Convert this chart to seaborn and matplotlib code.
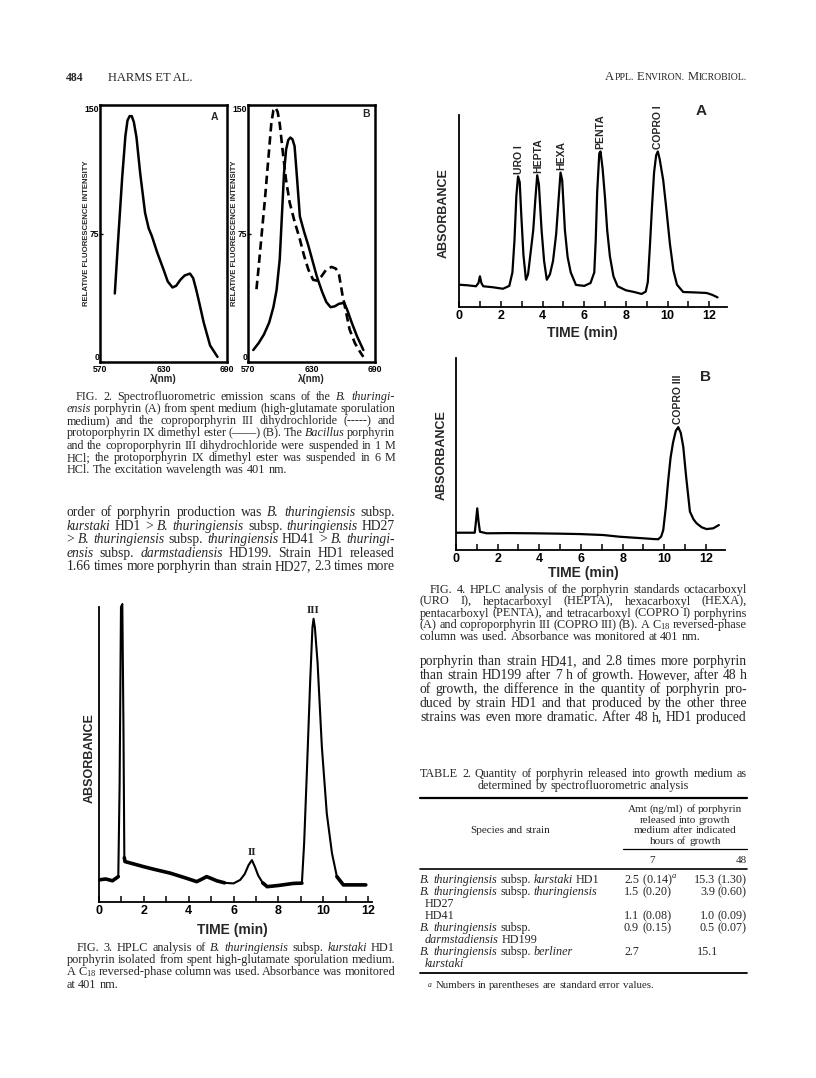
import matplotlib
matplotlib.use("Agg")
import matplotlib.pyplot as plt
from matplotlib.lines import Line2D
import numpy as np
import pandas as pd
import seaborn as sns

# ---------------- data read from the page ----------------
# Fig. 2A : B. thuringiensis porphyrin emission scan
fig2a_wavelength = [584, 587, 591, 594, 596, 598, 600, 602, 604.5, 608, 612.6, 616, 619, 624, 630,
                    634, 638.5, 642, 646, 650, 655, 658, 661, 664, 668, 674, 681]
fig2a_intensity = [40, 70, 108, 132, 141, 143.5, 143.5, 140, 131, 110, 87, 78, 73.5, 64, 54,
                   47, 43.5, 44.5, 48, 50.5, 51.6, 49, 42, 34, 23, 9.7, 3]
# Fig. 2B dashed : coproporphyrin III dihydrochloride
fig2b_copro_wavelength = [578, 580, 583, 586, 589, 592, 594, 596, 598, 600, 603, 606, 609.4, 614, 619,
                          623, 627, 631.5, 635, 639.4, 644, 649, 653, 656, 659.3, 663, 666, 671, 676, 679]
fig2b_copro_intensity = [42.5, 55, 75, 95, 117, 139, 147, 148.5, 146, 139, 122, 106, 93, 82, 71.6,
                         62, 54, 48, 47.5, 50, 54, 55.5, 54.5, 51, 39, 28, 19, 11, 5.8, 3]
# Fig. 2B solid : protoporphyrin IX dimethyl ester
fig2b_proto_wavelength = [575, 580, 585, 590, 594, 597, 600, 602, 604, 606, 608, 610, 612, 614, 616,
                          619, 623, 627, 631, 635, 640, 644, 648, 652, 656, 661, 664, 668, 673, 679]
fig2b_proto_intensity = [7, 11, 16, 23, 32, 42, 60, 85, 110, 124, 129.5, 131, 130, 126, 110,
                         85, 76, 68, 59, 50, 41, 35, 32, 32.5, 34, 34.5, 30, 23, 15, 7]
fig2_ticks_y = [0, 75, 150]
fig2_ticks_x = [570, 630, 690]

# Fig. 3 : HPLC of HD1 porphyrin
fig3_time = [0.0, 0.3, 0.6, 0.86, 0.92, 0.98, 1.04, 1.09, 1.13, 1.16, 1.5, 1.98, 2.5, 3.17, 3.8,
             4.36, 4.6, 4.8, 5.0, 5.25, 5.6, 6.0, 6.3, 6.5, 6.67, 6.82, 6.95, 7.1, 7.3, 7.5,
             8.0, 8.67, 9.05, 9.15, 9.27, 9.42, 9.52, 9.57, 9.63, 9.75, 9.94, 10.16, 10.39, 10.61,
             10.9, 11.4, 11.9]
fig3_abs = [7.5, 7.8, 7.2, 8.6, 40, 100, 101, 60, 15, 13.7, 13, 12, 11, 9.8, 8.3,
            6.9, 7.8, 8.6, 8.0, 7.2, 6.5, 6.3, 7.5, 9.5, 12.5, 14.2, 12, 9, 6.5, 5.2,
            5.6, 6.3, 6.4, 20, 43.7, 75, 93, 96, 93, 81, 52.6, 30, 16.6, 8.6,
            5.8, 5.8, 5.8]
fig3_peak_names = ["II", "III"]
fig3_peak_times = [6.82, 9.57]

# Fig. 4A : porphyrin standards
fig4a_time = [0, 0.4, 0.8, 0.92, 0.99, 1.06, 1.15, 1.6, 2.1, 2.4, 2.55, 2.65, 2.74, 2.82, 2.9,
              2.98, 3.08, 3.2, 3.3, 3.42, 3.55, 3.65, 3.74, 3.82, 3.95, 4.07, 4.2, 4.35, 4.5, 4.65,
              4.76, 4.86, 4.94, 5.07, 5.2, 5.35, 5.6, 6.0, 6.3, 6.48, 6.55, 6.62, 6.72, 6.78, 6.88,
              6.99, 7.1, 7.23, 7.4, 7.6, 8.0, 8.4, 8.75, 8.95, 9.05, 9.15, 9.25, 9.35, 9.45, 9.53,
              9.62, 9.79, 9.95, 10.11, 10.28, 10.45, 10.75, 11.3, 11.87, 12.15, 12.4]
fig4a_abs = [11.6, 11.3, 10.8, 12.5, 16, 12.5, 10.8, 10.3, 9.5, 11, 18, 35, 58, 68, 65,
             47, 27, 14.2, 17, 28, 40, 56, 68.6, 64, 40, 24, 14.2, 17, 24, 38,
             55, 70, 66, 40, 26, 18, 11.5, 11, 12.5, 18, 35, 60, 80, 81, 72,
             57.6, 40, 26.4, 16, 10.8, 8.7, 7.8, 6.8, 8, 13, 31.6, 52, 70, 79, 81,
             77, 66, 50, 33, 19, 11.6, 7.8, 7.6, 7.3, 6.3, 5]
fig4a_peak_names = ["URO I", "HEPTA", "HEXA", "PENTA", "COPRO I"]
fig4a_peak_times = [2.86, 3.78, 4.88, 6.76, 9.53]

# Fig. 4B : coproporphyrin III
fig4b_time = [0.03, 0.9, 0.96, 1.02, 1.08, 1.15, 1.47, 2.5, 3.71, 5.0, 5.95, 7.07, 7.87, 8.99, 9.5,
              9.71, 9.85, 9.95, 10.07, 10.19, 10.3, 10.42, 10.55, 10.67, 10.79, 10.91, 11.05, 11.23,
              11.4, 11.55, 11.8, 12.03, 12.35, 12.62]
fig4b_abs = [9, 9, 15, 21.7, 15, 9.5, 8.7, 8.8, 8.7, 8.5, 8.3, 7.8, 6.9, 6.1, 5.7,
             5.6, 7, 10.4, 22, 36.5, 48, 56, 62, 64, 61, 53.8, 38, 20,
             16, 13.9, 11.8, 10.9, 11.3, 13]
fig4b_peak_names = ["COPRO III"]
fig4b_peak_times = [10.67]

time_ticks = list(range(0, 13))

# Table 2
table_species = ["{B. thuringiensis} subsp. {kurstaki} HD1",
                 "{B. thuringiensis} subsp. {thuringiensis}",
                 "HD27",
                 "HD41",
                 "{B. thuringiensis} subsp.",
                 "{darmstadiensis} HD199",
                 "{B. thuringiensis} subsp. {berliner}",
                 "{kurstaki}"]
table_indent = [0, 0, 1, 1, 0, 1, 0, 1]
table_amt_7h = ["2.5 (0.14)$^{a}$", "1.5 (0.20)", "", "1.1 (0.08)", "0.9 (0.15)", "", "2.7", ""]
table_amt_48h = ["15.3 (1.30)", "3.9 (0.60)", "", "1.0 (0.09)", "0.5 (0.07)", "", "15.1", ""]
table_hours = ["7", "48"]

# Text of the page
fig2_caption = [
    "FIG. 2. Spectrofluorometric emission scans of the {B. thuringi-}",
    "{ensis} porphyrin (A) from spent medium (high-glutamate sporulation",
    "medium) and the coproporphyrin III dihydrochloride (-----) and",
    "protoporphyrin IX dimethyl ester (——) (B). The {Bacillus} porphyrin",
    "and the coproporphyrin III dihydrochloride were suspended in 1 M",
    "HCl; the protoporphyrin IX dimethyl ester was suspended in 6 M",
    "HCl. The excitation wavelength was 401 nm.",
]
left_body = [
    "order of porphyrin production was {B. thuringiensis} subsp.",
    "{kurstaki} HD1 > {B. thuringiensis} subsp. {thuringiensis} HD27",
    "> {B. thuringiensis} subsp. {thuringiensis} HD41 > {B. thuringi-}",
    "{ensis} subsp. {darmstadiensis} HD199. Strain HD1 released",
    "1.66 times more porphyrin than strain HD27, 2.3 times more",
]
fig3_caption = [
    "FIG. 3. HPLC analysis of {B. thuringiensis} subsp. {kurstaki} HD1",
    "porphyrin isolated from spent high-glutamate sporulation medium.",
    "A C$_{18}$ reversed-phase column was used. Absorbance was monitored",
    "at 401 nm.",
]
fig4_caption = [
    "FIG. 4. HPLC analysis of the porphyrin standards octacarboxyl",
    "(URO I), heptacarboxyl (HEPTA), hexacarboxyl (HEXA),",
    "pentacarboxyl (PENTA), and tetracarboxyl (COPRO I) porphyrins",
    "(A) and coproporphyrin III (COPRO III) (B). A C$_{18}$ reversed-phase",
    "column was used. Absorbance was monitored at 401 nm.",
]
right_body = [
    "porphyrin than strain HD41, and 2.8 times more porphyrin",
    "than strain HD199 after 7 h of growth. However, after 48 h",
    "of growth, the difference in the quantity of porphyrin pro-",
    "duced by strain HD1 and that produced by the other three",
    "strains was even more dramatic. After 48 h, HD1 produced",
]
table_title = ["TABLE 2. Quantity of porphyrin released into growth medium as",
               "determined by spectrofluorometric analysis"]
table_head = ["Amt (ng/ml) of porphyrin", "released into growth",
              "medium after indicated", "hours of growth"]

# ---------------- style ----------------
sns.set_style("white")
SERIF = "Liberation Serif"
SANS = "Liberation Sans"
plt.rcParams["font.family"] = [SERIF, "DejaVu Sans"]
plt.rcParams["mathtext.fontset"] = "custom"
plt.rcParams["mathtext.rm"] = SERIF
plt.rcParams["mathtext.it"] = SERIF + ":italic"
plt.rcParams["mathtext.bf"] = SERIF + ":bold"
plt.rcParams["axes.edgecolor"] = "black"
plt.rcParams["xtick.color"] = "black"
plt.rcParams["ytick.color"] = "black"

W, H, DPI = 816, 1078, 100
fig = plt.figure(figsize=(W / DPI, H / DPI), dpi=DPI)
fig.patch.set_facecolor("white")

CAP = 8.9     # caption size (upper bound)
BODY = 9.8    # running text size (upper bound)


def fx(x):
    return x / W


def fy(y):
    return 1 - y / H


def add_px(x0, y0, x1, y1):
    return fig.add_axes([fx(x0), fy(y1), (x1 - x0) / W, (y1 - y0) / H])


def line_plot(ax, x, y, **kw):
    df = pd.DataFrame({"x": x, "y": y})
    sns.lineplot(data=df, x="x", y="y", ax=ax, color="black", sort=False,
                 estimator=None, legend=False, **kw)
    ax.set_xlabel("")
    ax.set_ylabel("")


# ---------------- Fig. 2 ----------------
for (x0, x1, letter, lx, ly) in [(100, 227, "A", 0.898, 0.955), (248, 375, "B", 0.93, 0.965)]:
    ax = add_px(x0, 105, x1, 362)
    ax.set_xlim(570, 690)
    ax.set_ylim(0, 150)
    if letter == "A":
        line_plot(ax, fig2a_wavelength, fig2a_intensity, lw=1.8)
    else:
        line_plot(ax, fig2b_copro_wavelength, fig2b_copro_intensity, lw=1.9,
                  linestyle=(0, (3.2, 1.8)))
        line_plot(ax, fig2b_proto_wavelength, fig2b_proto_intensity, lw=1.8)
    for s in ax.spines.values():
        s.set_linewidth(1.8)
        s.set_visible(True)
    ax.set_yticks(fig2_ticks_y)
    ax.set_yticklabels([str(v) for v in fig2_ticks_y], fontsize=6.2, fontweight="bold", family=SANS)
    ax.get_yticklabels()[0].set_va("bottom")
    ax.get_yticklabels()[-1].set_va("top")
    ax.set_xticks(fig2_ticks_x)
    ax.set_xticklabels([str(v) for v in fig2_ticks_x], fontsize=6.2, fontweight="bold", family=SANS)
    ax.tick_params(axis="y", direction="in", length=2.5, width=1, pad=0.5, left=True)
    ax.tick_params(axis="x", length=0, pad=2.0)
    ax.set_xlabel("λ(nm)", fontsize=7, fontweight="bold", family=SANS, labelpad=0.3)
    ax.text(lx, ly, letter, transform=ax.transAxes, ha="center", va="center",
            fontsize=7.5, fontweight="bold", family=SANS)
    fig.text(fx(x0 - 13), fy(233), "RELATIVE FLUORESCENCE INTENSITY", rotation=90,
             ha="center", va="center", fontsize=5.6, fontweight="bold", family=SANS)


# ---------------- HPLC helper ----------------
def hplc_axes(x0, y0, x1, y1, px_per_min):
    ax = add_px(x0, y0, x1, y1)
    ax.set_xlim(0, (x1 - x0) / px_per_min)
    ax.set_ylim(0, 100)
    sns.despine(ax=ax)
    ax.spines["left"].set_linewidth(1.3)
    ax.spines["bottom"].set_linewidth(1.3)
    ax.set_yticks([])
    ax.set_xticks(time_ticks)
    ax.set_xticklabels([str(t) if t % 2 == 0 else "" for t in time_ticks],
                       fontsize=9, fontweight="bold", family=SANS)
    ax.tick_params(axis="x", direction="in", length=4.2, width=1.1, pad=2.2, bottom=True)
    ax.set_facecolor("none")
    return ax


def peak_height(times, values, t0, win=0.3):
    t = np.asarray(times)
    v = np.asarray(values)
    return v[np.abs(t - t0) <= win].max()


# ---------------- Fig. 3 ----------------
ax3 = hplc_axes(99, 607, 372, 902, 22.42)
line_plot(ax3, fig3_time, fig3_abs, lw=1.5, clip_on=False)
df3 = pd.DataFrame({"t": fig3_time, "a": fig3_abs})
for lo, hi in [(0.0, 0.86), (1.13, 5.6), (7.3, 9.05), (10.61, 11.9)]:
    seg = df3[(df3.t >= lo) & (df3.t <= hi)]
    line_plot(ax3, seg.t.tolist(), seg.a.tolist(), lw=2.6)
for name, t0 in zip(fig3_peak_names, fig3_peak_times):
    ax3.text(t0, peak_height(fig3_time, fig3_abs, t0) + 1.2, name, ha="center", va="bottom",
             fontsize=8, fontweight="bold", family=SERIF)
fig.text(fx(232.5), fy(930), "TIME (min)", ha="center", va="center", fontsize=10,
         fontweight="bold", family=SANS)
fig.text(fx(90), fy(758), "ABSORBANCE", rotation=90, ha="center", va="center",
         fontsize=9, fontweight="bold", family=SANS)

# ---------------- Fig. 4A ----------------
ax4a = hplc_axes(459.3, 115, 727, 307, 20.83)
line_plot(ax4a, fig4a_time, fig4a_abs, lw=1.6)
for name, t0 in zip(fig4a_peak_names, fig4a_peak_times):
    ax4a.text(t0, peak_height(fig4a_time, fig4a_abs, t0, 0.15) + 1.2, name, rotation=90,
              ha="center", va="bottom", fontsize=7.5, fontweight="bold", family=SANS)
ax4a.text(0.905, 1.02, "A", transform=ax4a.transAxes, ha="center", va="center",
          fontsize=11, fontweight="bold", family=SANS)
fig.text(fx(582.5), fy(333), "TIME (min)", ha="center", va="center", fontsize=10,
         fontweight="bold", family=SANS)
fig.text(fx(443.5), fy(213), "ABSORBANCE", rotation=90, ha="center", va="center",
         fontsize=9, fontweight="bold", family=SANS)

# ---------------- Fig. 4B ----------------
ax4b = hplc_axes(456, 358, 725, 550, 20.83)
line_plot(ax4b, fig4b_time, fig4b_abs, lw=1.6)
for name, t0 in zip(fig4b_peak_names, fig4b_peak_times):
    ax4b.text(t0, peak_height(fig4b_time, fig4b_abs, t0, 0.15) + 1.5, name, rotation=90,
              ha="center", va="bottom", fontsize=7.5, fontweight="bold", family=SANS)
ax4b.text(0.926, 0.9, "B", transform=ax4b.transAxes, ha="center", va="center",
          fontsize=11, fontweight="bold", family=SANS)
fig.text(fx(583), fy(573), "TIME (min)", ha="center", va="center", fontsize=10,
         fontweight="bold", family=SANS)
fig.text(fx(442), fy(455), "ABSORBANCE", rotation=90, ha="center", va="center",
         fontsize=9, fontweight="bold", family=SANS)

# ---------------- text layout ----------------
renderer = fig.canvas.get_renderer()


def parse_words(line):
    words = []
    italic = False
    for raw in line.split():
        w = raw
        it = italic
        if w.startswith("{"):
            w = w[1:]
            it = True
            italic = True
        if w.endswith("}"):
            w = w[:-1]
            italic = False
        words.append((w, it))
    return words


def natural(line, size, family=SERIF):
    """total word width (px) and word count of a line at a given size"""
    tot = 0.0
    words = parse_words(line)
    for w, it in words:
        t = fig.text(0, 0, w, fontsize=size, fontstyle="italic" if it else "normal", family=family)
        tot += t.get_window_extent(renderer=renderer).width
        t.remove()
    return tot, len(words)


def text_line(line, x0, x1, yc, size, justify=True, indent=0.0, align="left",
              family=SERIF, weight="normal"):
    words = parse_words(line)
    yb = yc + 0.32 * size * DPI / 72
    arts = []
    for w, it in words:
        t = fig.text(0, fy(yb), w, fontsize=size, fontstyle="italic" if it else "normal",
                     family=family, fontweight=weight, ha="left", va="baseline")
        arts.append((t, t.get_window_extent(renderer=renderer).width))
    total = sum(a[1] for a in arts)
    space = 0.25 * size * DPI / 72
    n = len(arts)
    start = x0 + indent
    if justify and n > 1:
        gap = (x1 - start - total) / (n - 1)
    else:
        gap = space
    width = total + gap * (n - 1)
    if align == "center":
        start = (x0 + x1) / 2 - width / 2
    elif align == "right":
        start = x1 - width
    x = start
    for t, wd in arts:
        t.set_x(fx(x))
        x += wd + gap


def fit_size(lines, x0, x1, max_size, indent=0.0, justified=None, min_gap=0.8):
    """largest size (<= max_size) for which every justified line keeps a word gap of at
    least min_gap * normal space"""
    ref = 10.0
    meas = [natural(ln, ref) for ln in lines]
    best = max_size
    for i, (tot, n) in enumerate(meas):
        if justified is not None and not justified[i]:
            continue
        avail = x1 - x0 - (indent if i == 0 else 0)
        # tot*s/ref + (n-1)*min_gap*0.25*s*DPI/72 <= avail
        per = tot / ref + (n - 1) * min_gap * 0.25 * DPI / 72
        best = min(best, avail / per)
    return best


def paragraph(lines, x0, x1, y0, dy, max_size, indent=0.0, last_justified=False):
    just = [last_justified or i < len(lines) - 1 for i in range(len(lines))]
    size = fit_size(lines, x0, x1, max_size, indent, just)
    for i, ln in enumerate(lines):
        text_line(ln, x0, x1, y0 + i * dy, size, justify=just[i], indent=indent if i == 0 else 0)


def small_caps(text, x_right, yc, big, small):
    pieces = []
    for k, word in enumerate(text.split(" ")):
        if k:
            pieces.append((" ", big))
        pieces.append((word[0], big))
        pieces.append((word[1:], small))
    yb = yc + 0.32 * big * DPI / 72
    arts = []
    for s, sz in pieces:
        if s == " ":
            arts.append((None, 0.25 * big * DPI / 72))
            continue
        t = fig.text(0, fy(yb), s, fontsize=sz, family=SERIF, ha="left", va="baseline")
        arts.append((t, t.get_window_extent(renderer=renderer).width))
    total = sum(a[1] for a in arts)
    x = x_right - total
    for t, wd in arts:
        if t is not None:
            t.set_x(fx(x))
        x += wd


def hline(y, x0, x1, lw):
    fig.add_artist(Line2D([fx(x0), fx(x1)], [fy(y), fy(y)], transform=fig.transFigure,
                          color="black", lw=lw))


LX0, LX1 = 66.5, 395
RX0, RX1 = 420, 747

# header
fig.text(fx(66), fy(77.5 + 3.5), "484", fontsize=8.5, fontweight="bold", family=SERIF,
         ha="left", va="baseline")
fig.text(fx(107.5), fy(77.5 + 3.8), "HARMS ET AL.", fontsize=9, family=SERIF,
         ha="left", va="baseline")
small_caps("APPL. ENVIRON. MICROBIOL.", RX1, 76.5, 9, 7)

paragraph(fig2_caption, LX0, LX1, 395.7, 12.3, CAP, indent=9)
paragraph(left_body, LX0, LX1, 512, 13.5, BODY, last_justified=True)
paragraph(fig3_caption, LX0, LX1, 947, 12.2, CAP, indent=10.5)
paragraph(fig4_caption, RX0, RX1, 589, 11.8, CAP, indent=10)
paragraph(right_body, RX0, RX1, 661, 14.0, BODY, last_justified=True)

# Table 2
tsize = fit_size(table_title[:1], RX0, RX1, 8.7)
text_line(table_title[0], RX0, RX1, 773.5, tsize, justify=True)
text_line(table_title[1], RX0, RX1, 785.5, tsize, justify=False, align="center")
hline(797.5, RX0, RX1, 1.6)
for i, ln in enumerate(table_head):
    text_line(ln, 623, RX1, 808.5 + i * 10.5, 8.0, justify=False, align="center")
text_line("Species and strain", RX0, 600, 829, 8.0, justify=False, align="center")
hline(849, 623, RX1, 0.9)
text_line(table_hours[0], 623, 682, 859, 8.0, justify=False, align="center")
text_line(table_hours[1], 700, RX1, 859, 8.0, justify=False, align="right")
hline(869, RX0, RX1, 1.2)
for i, (sp, ind, a7, a48) in enumerate(zip(table_species, table_indent, table_amt_7h, table_amt_48h)):
    yc = 879.5 + i * 11.9
    text_line(sp, RX0 + 5 * ind, 620, yc, 8.7, justify=False)
    if a7:
        text_line(a7, 624, 690, yc, 8.7, justify=False)
    if a48:
        if a48 == "15.1":
            text_line(a48, 697, RX1, yc, 8.7, justify=False)
        else:
            text_line(a48, 690, RX1, yc, 8.7, justify=False, align="right")
hline(973, RX0, RX1, 1.3)
text_line("$^{a}$ Numbers in parentheses are standard error values.", 427, RX1, 985, 7.8,
          justify=False)

fig.savefig("out.png", dpi=DPI, facecolor="white")
